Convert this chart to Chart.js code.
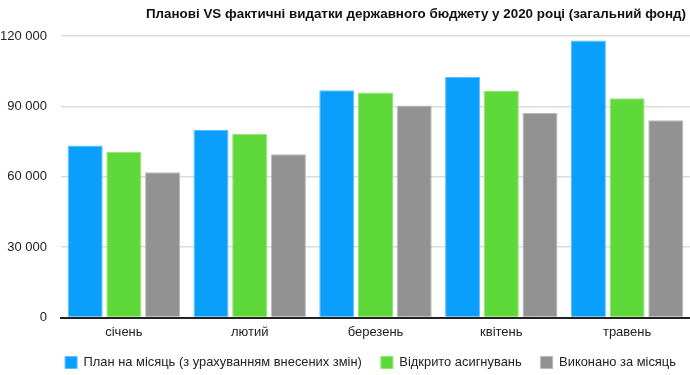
<!DOCTYPE html>
<html>
<head>
<meta charset="utf-8">
<script src="https://cdn.jsdelivr.net/npm/chart.js@4.4.0/dist/chart.umd.min.js"></script>
<style>
  html, body { margin: 0; padding: 0; background: #fff; }
  #wrap { width: 690px; height: 375px; }
</style>
</head>
<body>
<div id="wrap"><canvas id="budget-chart"></canvas></div>
<script>
var months = ["січень", "лютий", "березень", "квітень", "травень"];
var planned = [73300, 80000, 96900, 102600, 118100];
var opened = [70700, 78400, 95900, 96600, 93500];
var executed = [61900, 69600, 90400, 87200, 84100];
var yTicks = [0, 30000, 60000, 90000, 120000];

// legend sits roughly centred under the plot area rather than the whole canvas,
// a bit closer to the month labels; title pulled in slightly from the edge
var nudgeBoxes = {
    id: "nudgeBoxes",
    afterLayout: function (chart) {
        var lg = chart.legend;
        var d = (chart.chartArea.left + chart.chartArea.right) / 2 - (lg.left + lg.right) / 2 - 5;
        lg.left += d;
        lg.right += d;
        lg.top -= 10;
        lg.bottom -= 10;
        chart.titleBlock.left -= 4;
        chart.titleBlock.right -= 4;
    }
};

var ctx = document.getElementById("budget-chart");
var chartGraph = new Chart(ctx, {
    type: "bar",
    data: {
        labels: months,
        datasets: [
            {
                label: "План на місяць (з урахуванням внесених змін)",
                data: planned,
                borderWidth: 1,
                borderColor: "rgba(90,190,255,1)",
                backgroundColor: "rgba(10,159,252,1)",
            },
            {
                label: "Відкрито асигнувань",
                data: opened,
                borderWidth: 1,
                borderColor: "rgba(140,230,110,1)",
                backgroundColor: "rgba(95,217,58,1)",
            },
            {
                label: "Виконано за місяць",
                data: executed,
                borderWidth: 1,
                borderColor: "rgba(185,185,185,1)",
                backgroundColor: "rgba(146,146,146,1)",
            }
        ],
    },
    options: {
        responsive: true,
        maintainAspectRatio: false,
        animation: false,
        datasets: {
            bar: { categoryPercentage: 0.923, barPercentage: 0.905 }
        },
        layout: { padding: { left: 0, right: 0, top: 0, bottom: -14 } },
        plugins: {
            title: {
                display: true,
                text: "Планові VS фактичні видатки державного бюджету у 2020 році (загальний фонд)",
                align: "end",
                color: "#111",
                font: { family: "Liberation Sans", size: 13.4, weight: "bold" },
                padding: { top: 6, bottom: 14 }
            },
            legend: {
                position: "bottom",
                labels: {
                    boxWidth: 12,
                    boxHeight: 12,
                    padding: 19,
                    color: "#222",
                    font: { family: "Liberation Sans", size: 12.9 }
                }
            },
            tooltip: { enabled: false }
        },
        scales: {
            x: {
                grid: { display: false, drawTicks: false },
                border: { color: "#222", width: 2 },
                ticks: {
                    color: "#222",
                    padding: 7,
                    font: { family: "Liberation Sans", size: 13 }
                }
            },
            y: {
                min: 0,
                max: 120000,
                afterFit: function (axis) { axis.width = 61; },
                afterBuildTicks: function (axis) {
                    axis.ticks = yTicks.map(function (v) { return { value: v }; });
                },
                border: { display: false },
                grid: { color: "#dcdcdc", lineWidth: 1.5, drawTicks: false },
                ticks: {
                    color: "#222",
                    padding: 14,
                    font: { family: "Liberation Sans", size: 13 },
                    callback: function (v) {
                        return String(v).replace(/\B(?=(\d{3})+(?!\d))/g, " ");
                    }
                }
            }
        }
    },
    plugins: [nudgeBoxes]
});
</script>
</body>
</html>
